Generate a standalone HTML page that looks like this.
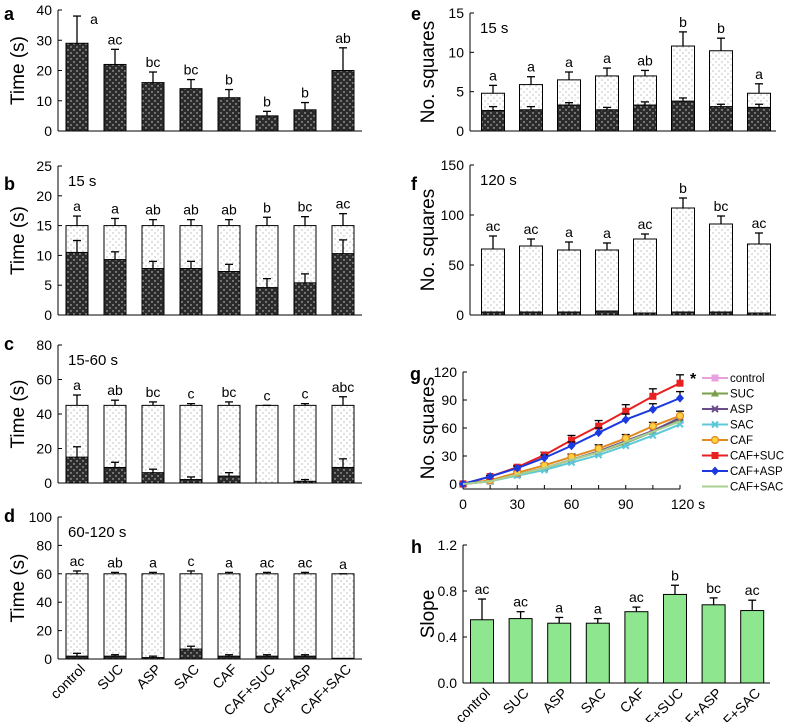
<!DOCTYPE html>
<html><head><meta charset="utf-8"><style>
body{margin:0;background:#fff}
svg{font-family:"Liberation Sans",sans-serif;display:block}
</style></head><body>
<svg id="fig" width="785" height="722" viewBox="0 0 785 722" xmlns="http://www.w3.org/2000/svg">
<defs>
<pattern id="darkDots" width="6" height="6" patternUnits="userSpaceOnUse"><rect width="6" height="6" fill="#2b2b2b"/><circle cx="2" cy="2" r="0.7" fill="#ddd"/><circle cx="5" cy="5" r="0.7" fill="#ddd"/></pattern>
<pattern id="lightDots" width="6" height="6" patternUnits="userSpaceOnUse"><rect width="6" height="6" fill="#fff"/><circle cx="2" cy="2" r="0.5" fill="#666"/><circle cx="5" cy="5" r="0.5" fill="#666"/></pattern>
</defs>
</svg>
<script>
const categories=["control","SUC","ASP","SAC","CAF","CAF+SUC","CAF+ASP","CAF+SAC"];
const aVals=[29,22,16,14,11,5,7,20];
const aErr=[9,5,3.5,3,2.7,1.5,2.4,7.5];
const aLetters=["a","ac","bc","bc","b","b","b","ab"];
const bDark=[10.5,9.3,7.8,7.8,7.3,4.6,5.4,10.3];
const bDarkErr=[2,1.3,1.2,1.2,1.2,1.5,1.5,2.3];
const bTop=[15,15,15,15,15,15,15,15];
const bTopErr=[1.6,1.2,1,1,1,1.4,1.5,2];
const bLetters=["a","a","ab","ab","ab","b","bc","ac"];
const cDark=[15,9,6,2,4,0,1,9];
const cDarkErr=[6,3,2,1.5,2,0,1,5];
const cTop=[45,45,45,45,45,45,45,45];
const cTopErr=[6,3,2,1,2,0,1,5];
const cLetters=["a","ab","bc","c","bc","c","c","abc"];
const dDark=[2,2,1,7,2,2,2,0.5];
const dDarkErr=[2,1,1,2,1,1,1,0];
const dTop=[60,60,60,60,60,60,60,60];
const dTopErr=[2,1,1,2,1,1,1,0];
const dLetters=["ac","ab","a","c","a","ac","ac","a"];
const eDark=[2.6,2.7,3.3,2.7,3.3,3.8,3.1,3.0];
const eDarkErr=[0.5,0.4,0.3,0.3,0.4,0.4,0.3,0.4];
const eTop=[4.8,5.9,6.5,7,7,10.8,10.2,4.8];
const eTopErr=[1,1,1,1,0.7,1.8,1.6,1.2];
const eLetters=["a","a","a","a","ab","b","b","a"];
const fDark=[3,3,3,4,2,3,3,2];
const fTop=[66,69,65,65,76,107,91,71];
const fTopErr=[13,7,8,7,5,10,8,11];
const fLetters=["ac","ac","a","a","ac","b","bc","ac"];
const gTimes=[0,15,30,45,60,75,90,105,120];
const gControl=[0,3,10,17,26,34,44,56,68];
const gSUC=[0,3,10,17,26,34,44,56,69];
const gASP=[0,3,10,17,26,35,46,57,71];
const gSAC=[0,3,9,15,23,31,41,52,64];
const gCAF=[0,4,12,20,29,38,49,62,73];
const gCAFSUC=[0,8,18,31,47,62,78,94,108];
const gCAFASP=[0,8,17,28,41,55,69,80,92];
const gCAFSAC=[0,3,10,17,26,34,45,56,67];
const gCAFSUCErr=[0,1,2,3,5,6,7,8,9];
const gCAFASPErr=[0,1,2,3,4,5,6,6,7];
const gCAFErr=[0,1,1,2,3,4,4,4,5];
const hVals=[0.55,0.56,0.52,0.52,0.62,0.77,0.68,0.63];
const hErr=[0.18,0.06,0.05,0.04,0.04,0.08,0.06,0.09];
const hLetters=["ac","ac","a","a","ac","b","bc","ac"];

const NS="http://www.w3.org/2000/svg";
const svg=document.getElementById('fig');
function mk(tag,at,parent){const e=document.createElementNS(NS,tag);for(const k in at)e.setAttribute(k,at[k]);(parent||svg).appendChild(e);return e;}
function txt(s,at,parent){const e=mk('text',at,parent);e.textContent=s;return e;}

function yAxis(g,x0,x1,ys,ticks,fmt){
  mk('line',{x1:x0,y1:ys(ticks[0]),x2:x0,y2:ys(ticks[ticks.length-1]),stroke:'#000','stroke-width':1},g);
  mk('line',{x1:x0,y1:ys(ticks[0]),x2:x1,y2:ys(ticks[0]),stroke:'#000','stroke-width':1},g);
  ticks.forEach(t=>{
    const tk=mk('line',{x1:x0,y1:ys(t),x2:x0+4,y2:ys(t),stroke:'#000'},g);
    
    const l=txt(fmt?fmt(t):String(t),{x:x0-6,y:ys(t)+5,'text-anchor':'end','font-size':14},g);
    
  });
}
function errBar(g,cx,y1,y2){
  mk('line',{x1:cx,y1:y1,x2:cx,y2:y2,stroke:'#000','stroke-width':1.3},g);
  mk('line',{x1:cx-4,y1:y2,x2:cx+4,y2:y2,stroke:'#000','stroke-width':1.3},g);
}
function barPanel(o){
  const g=mk('g',{});
  
  
  const ys=v=>o.y0-(v-o.min)/(o.max-o.min)*(o.y0-o.y1);
  const cx=i=>o.x0+o.first+i*o.step;
  yAxis(g,o.x0,o.xEnd,ys,o.ticks,o.fmt);
  categories.forEach((c,i)=>{
    const w=o.bw, x=cx(i)-w/2;
    let topV;
    if(o.top){
      const r=mk('rect',{x:x,y:ys(o.top[i]),width:w,height:ys(0)-ys(o.top[i]),fill:'url(#lightDots)',stroke:'#000','stroke-width':1},g);
      
      errBar(g,cx(i),ys(o.top[i]),ys(o.top[i]+o.topErr[i]));
      topV=o.top[i]+o.topErr[i];
    }
    if(o.dark){
      const r=mk('rect',{x:x,y:ys(o.dark[i]),width:w,height:ys(0)-ys(o.dark[i]),fill:o.fill||'url(#darkDots)',stroke:'#000','stroke-width':1},g);
      
      if(o.darkErr&&o.darkErr[i]>0)errBar(g,cx(i),ys(o.dark[i]),ys(o.dark[i]+o.darkErr[i]));
      if(!o.top)topV=o.dark[i]+o.darkErr[i];
    }
    if(o.letters){
      const lx=o.letterRightFirst&&i===0?cx(i)+w/2+6:cx(i);
      const ly=o.letterRightFirst&&i===0?ys(topV)+8:ys(topV)-5;
      const l=txt(o.letters[i],{x:lx,y:ly,'text-anchor':'middle','font-size':14},g);
      
    }
  });
  const pl=txt(o.letter,{x:o.lx,y:o.ly,'font-size':18,'font-weight':'bold'},g);
  
  const yt=txt(o.ytitle,{x:0,y:0,'font-size':19,'text-anchor':'middle',transform:`translate(${o.tx},${(o.y0+o.y1)/2}) rotate(-90)`},g);
  
  if(o.inner){const t=txt(o.inner,{x:o.x0+10,y:o.y1+20,'font-size':15},g);}
  if(o.cats){
    categories.forEach((c,i)=>{
      const t=txt(c,{x:0,y:0,'font-size':14,'text-anchor':'end',transform:`translate(${cx(i)+9},${o.y0+11}) rotate(-45)`},g);
      
    });
  }
}
const L={x0:58,xEnd:362,first:19,step:38,bw:22,lx:4,tx:24};
const R={x0:470,xEnd:776,first:23,step:38,bw:23,lx:411,tx:434};
barPanel({...L,name:'panel-a',letter:'a',ly:20,y0:131,y1:10,min:0,max:40,ticks:[0,10,20,30,40],dark:aVals,darkErr:aErr,letters:aLetters,ytitle:'Time (s)',letterRightFirst:true});
barPanel({...L,name:'panel-b',letter:'b',ly:190,y0:315,y1:166,min:0,max:25,ticks:[0,5,10,15,20,25],top:bTop,topErr:bTopErr,dark:bDark,darkErr:bDarkErr,letters:bLetters,ytitle:'Time (s)',inner:'15 s'});
barPanel({...L,name:'panel-c',letter:'c',ly:350,y0:483,y1:345,min:0,max:80,ticks:[0,20,40,60,80],top:cTop,topErr:cTopErr,dark:cDark,darkErr:cDarkErr,letters:cLetters,ytitle:'Time (s)',inner:'15-60 s'});
barPanel({...L,name:'panel-d',letter:'d',ly:522,y0:659,y1:517,min:0,max:100,ticks:[0,20,40,60,80,100],top:dTop,topErr:dTopErr,dark:dDark,darkErr:dDarkErr,letters:dLetters,ytitle:'Time (s)',inner:'60-120 s',cats:true});
barPanel({...R,name:'panel-e',letter:'e',ly:20,y0:131,y1:13,min:0,max:15,ticks:[0,5,10,15],top:eTop,topErr:eTopErr,dark:eDark,darkErr:eDarkErr,letters:eLetters,ytitle:'No. squares',inner:'15 s'});
barPanel({...R,name:'panel-f',letter:'f',ly:190,y0:315,y1:165,min:0,max:150,ticks:[0,50,100,150],top:fTop,topErr:fTopErr,dark:fDark,darkErr:fDark.map(()=>0),letters:fLetters,ytitle:'No. squares',inner:'120 s'});
barPanel({...R,x0:463,first:19,step:38.6,xEnd:770,name:'panel-h',letter:'h',ly:553,y0:683,y1:545,min:0,max:1.2,ticks:[0,0.4,0.8,1.2],fmt:t=>t.toFixed(1),dark:hVals,darkErr:hErr,fill:'#8ee68e',letters:hLetters,ytitle:'Slope',cats:true});

// panel g line chart
(function(){
  const g=mk('g',{});
  
  
  const x0=463,x1=680,y0=484,y1=372;
  const xs=t=>x0+t/120*(x1-x0), ys=v=>y0-v/120*(y0-y1);
  mk('line',{x1:x0,y1:ys(0),x2:x0,y2:ys(120),stroke:'#000'},g);
  mk('line',{x1:x0,y1:y0+5,x2:x1,y2:y0+5,stroke:'#000'},g);
  [0,30,60,90,120].forEach(t=>{
    mk('line',{x1:x0,y1:ys(t),x2:x0+4,y2:ys(t),stroke:'#000'},g);
    const l=txt(String(t),{x:x0-6,y:ys(t)+5,'text-anchor':'end','font-size':14},g);
    
  });
  gTimes.forEach(t=>mk('line',{x1:xs(t),y1:y0+5,x2:xs(t),y2:y0+1,stroke:'#000'},g));
  [0,30,60,90,120].forEach(t=>{
    const l=txt(t===120?'120 s':String(t),{x:xs(t)+(t===120?8:0),y:y0+25,'text-anchor':'middle','font-size':14},g);
    
  });
  const series=[
    ['control',gControl,'#e8a0e0','sq'],['SUC',gSUC,'#7aa04a','tri'],['ASP',gASP,'#6a4c8c','x'],['SAC',gSAC,'#5cc8d8','x'],
    ['CAF',gCAF,'#e08a20','circ'],['CAF+SUC',gCAFSUC,'#e82020','sq'],['CAF+ASP',gCAFASP,'#1a3ae0','dia'],['CAF+SAC',gCAFSAC,'#a8d090','none']];
  const errs={'CAF':gCAFErr,'CAF+SUC':gCAFSUCErr,'CAF+ASP':gCAFASPErr};
  function marker(type,x,y,c,parent){
    if(type==='sq')mk('rect',{x:x-3.5,y:y-3.5,width:7,height:7,fill:c},parent);
    else if(type==='tri')mk('polygon',{points:`${x},${y-4} ${x-4},${y+3} ${x+4},${y+3}`,fill:c},parent);
    else if(type==='x'){mk('path',{d:`M${x-3},${y-3}L${x+3},${y+3}M${x+3},${y-3}L${x-3},${y+3}`,stroke:c,'stroke-width':2},parent);}
    else if(type==='circ')mk('circle',{cx:x,cy:y,r:3.5,fill:'#ffd040',stroke:c,'stroke-width':1.2},parent);
    else if(type==='dia')mk('polygon',{points:`${x},${y-4.5} ${x+4},${y} ${x},${y+4.5} ${x-4},${y}`,fill:c},parent);
  }
  series.forEach(([n,v,c,m],si)=>{
    const sg=mk('g',{},g);
    
    
    if(errs[n])gTimes.forEach((t,i)=>{if(errs[n][i]>0)errBar(sg,xs(t),ys(v[i]),ys(v[i]+errs[n][i]));});
    mk('polyline',{points:gTimes.map((t,i)=>xs(t)+','+ys(v[i])).join(' '),fill:'none',stroke:c,'stroke-width':2},sg);
    gTimes.forEach((t,i)=>marker(m,xs(t),ys(v[i]),c,sg));
    const ly=378+si*15.5;
    const le=mk('g',{},g);
    
    
    mk('line',{x1:702,y1:ly,x2:728,y2:ly,stroke:c,'stroke-width':2},le);
    marker(m,715,ly,c,le);
    txt(n,{x:730,y:ly+4,'font-size':11.5},le);
  });
  txt('*',{x:690,y:384,'font-size':16,'font-weight':'bold'},g);
  const pl=txt('g',{x:410,y:380,'font-size':18,'font-weight':'bold'},g);
  
  const yt=txt('No. squares',{x:0,y:0,'font-size':19,'text-anchor':'middle',transform:`translate(434,${(y0+y1)/2}) rotate(-90)`},g);
  
})();
</script>
</body></html>
